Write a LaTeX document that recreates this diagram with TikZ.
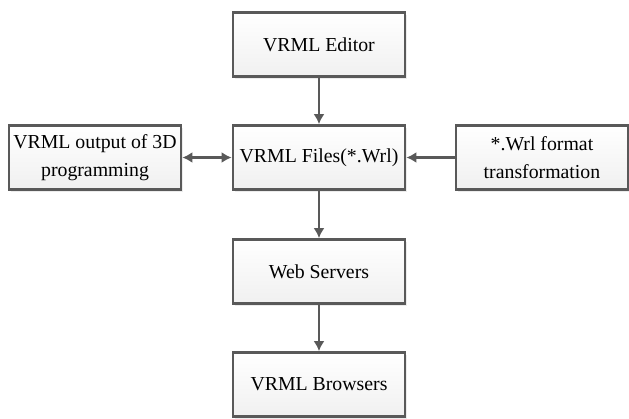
\documentclass[tikz,border=0pt]{standalone}
\usepackage{fontspec}
\setmainfont{Liberation Serif}
\usetikzlibrary{arrows.meta, calc, positioning, shadows}

\begin{document}
\begin{tikzpicture}[x=0.5pt, y=-0.5pt, font=\fontsize{9.9}{14.3}\selectfont]
			\tikzstyle{block}=[draw={rgb,255:red,89;green,89;blue,89}, line width=1.4pt, top color=white, bottom color={rgb,255:red,240;green,240;blue,240}, minimum width=86pt, minimum height=32pt, align=center, inner sep=2pt, drop shadow={opacity=0.15, shadow xshift=1pt, shadow yshift=-1pt}]
			\tikzstyle{link}=[draw={rgb,255:red,89;green,89;blue,89}, line width=1.4pt, -{Latex[length=5pt, width=5.5pt]}]
			\useasboundingbox (0,0) rectangle (629,419);
			
			% Arrange the boxes
			\node[block] (editor) at (319, 44.5)     {VRML Editor};
			\node[block] (files) at (319, 157.5)     {VRML Files(*.Wrl)};
			\node[block] (output) at (95, 157.5)     {VRML output of 3D\\programming};
			\node[block] (transform) at (542, 157.5) {*.Wrl format\\transformation};
			\node[block] (servers) at (319, 271.5)   {Web Servers};
			\node[block] (browsers) at (319, 384.5)  {VRML Browsers};
			
			% Connect the boxes
			\path[link] (editor) -- (files);
			\path[link, {Latex[length=5pt, width=5.5pt]}-{Latex[length=5pt, width=5.5pt]}] (output) -- (files);
			\path[link] (transform) -- (files);
			\path[link] (files) -- (servers);
			\path[link] (servers) -- (browsers);
		\end{tikzpicture}
\end{document}
